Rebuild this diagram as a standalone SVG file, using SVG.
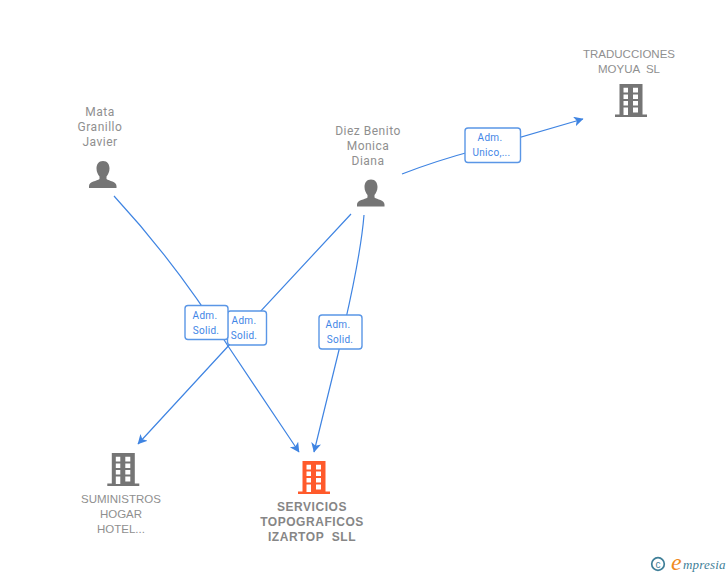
<svg xmlns="http://www.w3.org/2000/svg" width="728" height="575" viewBox="0 0 728 575">
<style>
text{font-family:"Roboto","Liberation Sans",sans-serif}
.n{font-size:12px;fill:#8f8f8f;text-anchor:middle;letter-spacing:.5px}
.c{font-family:"Liberation Sans",Arial,sans-serif;font-size:11.500px;fill:#8f8f8f;text-anchor:middle;letter-spacing:0;white-space:pre}
.b{font-family:"Liberation Sans",Arial,sans-serif;font-size:12px;font-weight:bold;fill:#868686;text-anchor:middle;letter-spacing:.55px;white-space:pre}
.l{font-size:10px;fill:#3f86e6;text-anchor:middle;letter-spacing:.3px}
.e{fill:none;stroke:#3f84e2;stroke-width:1.200}
.box{fill:#fff;stroke:#5a96e6;stroke-width:1.400}
</style>
<defs>
<marker id="a" markerUnits="userSpaceOnUse" markerWidth="12" markerHeight="12" refX="9" refY="5" orient="auto"><path d="M0 0L9.500 5L0 10L2.500 5Z" fill="#3f84e2"/></marker>
<g id="bld"><path fill-rule="evenodd" d="M4.500 0H27.500V30.500H32V33H0V30.500H4.500ZM8.500 3.700V8.500H13V3.700ZM18 3.700V8.500H23V3.700ZM8.500 10.500V15H13V10.500ZM18 10.500V15H23V10.500ZM8.500 17V21.500H13V17ZM18 17V21.500H23V17ZM8.500 23.500V31H13V23.500ZM18 23.500V28.500H23V23.500Z"/></g>
<path id="per" fill="#757575" d="M14 0C18.500 0 20.500 3.500 20.500 7.500C20.500 11 19 13.500 17.500 15.500V18C20 20 27.500 20.500 27.500 25V27H0V25C0 20.500 8 20 10.500 18V15.500C9 13.500 7.500 11 7.500 7.500C7.500 3.500 9.500 0 14 0Z"/>
</defs>
<g id="connectors">
<path class="e" d="M114 196C150 235 190 285 228 346L299 452" marker-end="url(#a)"/>
<path class="e" d="M351 214L232 342L138 444" marker-end="url(#a)"/>
<path class="e" d="M364 215C360 265 345 320 339 350L314 452" marker-end="url(#a)"/>
<path class="e" d="M402 174C430 163 450 157 480 149L583 119" marker-end="url(#a)"/>
</g>
<g id="label-4"><rect class="box" x="227.500" y="311" width="39" height="34" rx="3"/><text class="l" x="244" y="324">Adm.</text><text class="l" x="244" y="339">Solid.</text></g>
<g id="label-1"><rect class="box" x="185" y="305.500" width="43" height="34" rx="3"/><text class="l" x="205" y="319">Adm.</text><text class="l" x="206" y="334">Solid.</text></g>
<g id="label-2"><rect class="box" x="319" y="315" width="43" height="34" rx="3"/><text class="l" x="338" y="328">Adm.</text><text class="l" x="340" y="343">Solid.</text></g>
<g id="label-3"><rect class="box" x="465" y="128" width="55.500" height="34.500" rx="3"/><text class="l" x="490" y="141">Adm.</text><text class="l" x="491.500" y="156">Unico,...</text></g>
<g id="node-mata"><text class="n" x="100" y="116">Mata</text><text class="n" x="100" y="131">Granillo</text><text class="n" x="100" y="146">Javier</text><use href="#per" x="89" y="161"/></g>
<g id="node-diez"><text class="n" x="368" y="135">Diez Benito</text><text class="n" x="368" y="150">Monica</text><text class="n" x="368" y="165">Diana</text><use href="#per" x="357" y="179.500"/></g>
<g id="node-traducciones"><text class="c" x="629" y="58">TRADUCCIONES</text><text class="c" x="629" y="73">MOYUA  SL</text><use href="#bld" x="615" y="84" fill="#757575"/></g>
<g id="node-suministros"><use href="#bld" x="107.300" y="453" fill="#757575"/><text class="c" x="121" y="503">SUMINISTROS</text><text class="c" x="121" y="518">HOGAR</text><text class="c" x="121" y="533">HOTEL...</text></g>
<g id="node-servicios"><use href="#bld" x="298" y="461" fill="#ff5a2b"/><text class="b" x="312" y="511">SERVICIOS</text><text class="b" x="312" y="526">TOPOGRAFICOS</text><text class="b" x="312" y="541">IZARTOP  SLL</text></g>
<g id="logo"><circle cx="658" cy="564" r="6.300" fill="none" stroke="#3f7f98" stroke-width="1.700"/><text x="658" y="567.500" font-size="10" fill="#3f7f98" text-anchor="middle" style="font-family:'Liberation Sans',sans-serif">c</text><text x="671" y="570" font-size="24" fill="#f08a1d" font-style="italic" style="font-family:'Liberation Serif',serif">e</text><text x="683" y="569" font-size="13" fill="#3f7f98" font-style="italic" style="font-family:'Liberation Serif',serif" letter-spacing=".2">mpresia</text></g>
</svg>
